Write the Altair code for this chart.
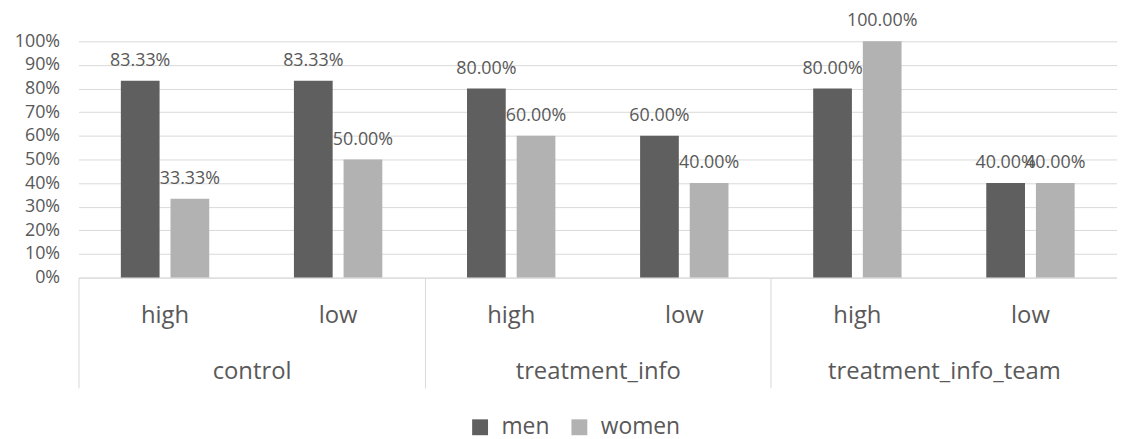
import altair as alt
import pandas as pd

# ---- data ----
groups = ["control", "control", "treatment_info", "treatment_info",
          "treatment_info_team", "treatment_info_team"]
levels = ["high", "low", "high", "low", "high", "low"]
men = [0.8333, 0.8333, 0.80, 0.60, 0.80, 0.40]
women = [0.3333, 0.50, 0.60, 0.40, 1.00, 0.40]
genders = ["men", "women"]
colors = ["#5f5f5f", "#b2b2b2"]
y_ticks = [0, 0.1, 0.2, 0.3, 0.4, 0.5, 0.6, 0.7, 0.8, 0.9, 1.0]

rows = []
for g, l, m, w in zip(groups, levels, men, women):
    slot = f"{g}|{l}"
    rows.append(dict(group=g, level=l, slot=slot, gender="men", value=m))
    rows.append(dict(group=g, level=l, slot=slot, gender="women", value=w))
df = pd.DataFrame(rows)
slots = list(dict.fromkeys(df["slot"]))
group_order = list(dict.fromkeys(groups))
gdf = pd.DataFrame({"group": group_order})

FONT = "Open Sans"
TXT = "#595959"
GRID = "#d9d9d9"
W, H = 1046, 238

x_slot = alt.X(
    "slot:N", sort=slots,
    scale=alt.Scale(paddingInner=0, paddingOuter=0),
    axis=alt.Axis(title=None, orient="bottom", labelExpr="split(datum.label, '|')[1]",
                  labelAngle=0, ticks=False, domain=True, domainColor=GRID,
                  labelPadding=26, labelFontSize=24, labelColor=TXT, labelFont=FONT,
                  labelLimit=0, grid=False),
)
y_enc = alt.Y(
    "value:Q", scale=alt.Scale(domain=[0, 1], nice=False),
    axis=alt.Axis(title=None, format="%", values=y_ticks, tickCount=len(y_ticks),
                  grid=True, gridColor=GRID, domain=False, ticks=False,
                  labelFontSize=18, labelColor=TXT, labelFont=FONT,
                  labelPadding=19, labelOverlap=False),
)
x_off = alt.XOffset("gender:N", sort=genders,
                    scale=alt.Scale(paddingInner=0.22, paddingOuter=0.853))

bars = alt.Chart(df).mark_bar().encode(
    x=x_slot, y=y_enc, xOffset=x_off,
    color=alt.Color(
        "gender:N", sort=genders,
        scale=alt.Scale(domain=genders, range=colors),
        legend=alt.Legend(title=None, orient="none", legendX=393, legendY=377,
                          direction="horizontal", symbolType="square", symbolSize=256,
                          symbolStrokeWidth=0, labelFontSize=23, labelColor=TXT,
                          labelFont=FONT, columnPadding=18, labelOffset=10, padding=0),
    ),
)
labels = alt.Chart(df).mark_text(
    dy=-15, baseline="alphabetic", fontSize=18, font=FONT, color=TXT
).encode(
    x=x_slot, y=y_enc, xOffset=x_off,
    text=alt.Text("value:Q", format=".2%"),
)
main = alt.layer(bars, labels)

group_labels = alt.Chart(gdf).mark_point(opacity=0).encode(
    x=alt.X("group:N", sort=group_order,
            scale=alt.Scale(paddingInner=0, paddingOuter=0),
            axis=alt.Axis(title=None, orient="bottom", ticks=False, domain=False,
                          labelPadding=83, labelFontSize=24, labelColor=TXT,
                          labelFont=FONT, labelAngle=0, labelLimit=0, grid=False))
)
separators = alt.Chart(gdf).mark_point(opacity=0).encode(
    x=alt.X("group:N", sort=group_order,
            scale=alt.Scale(paddingInner=0, paddingOuter=0),
            axis=alt.Axis(title=None, orient="bottom", labels=False, ticks=True,
                          tickSize=111, tickColor=GRID, tickBand="extent",
                          domain=False, grid=False))
)

chart = alt.layer(main, group_labels, separators).resolve_scale(
    x="independent"
).properties(
    width=W, height=H,
    padding={"left": 71, "top": 32, "right": 0, "bottom": 161},
    autosize=alt.AutoSizeParams(type="none"),
).configure(font=FONT).configure_view(stroke=None)

chart.save("out.html", embed_options={"renderer": "svg", "actions": False})
